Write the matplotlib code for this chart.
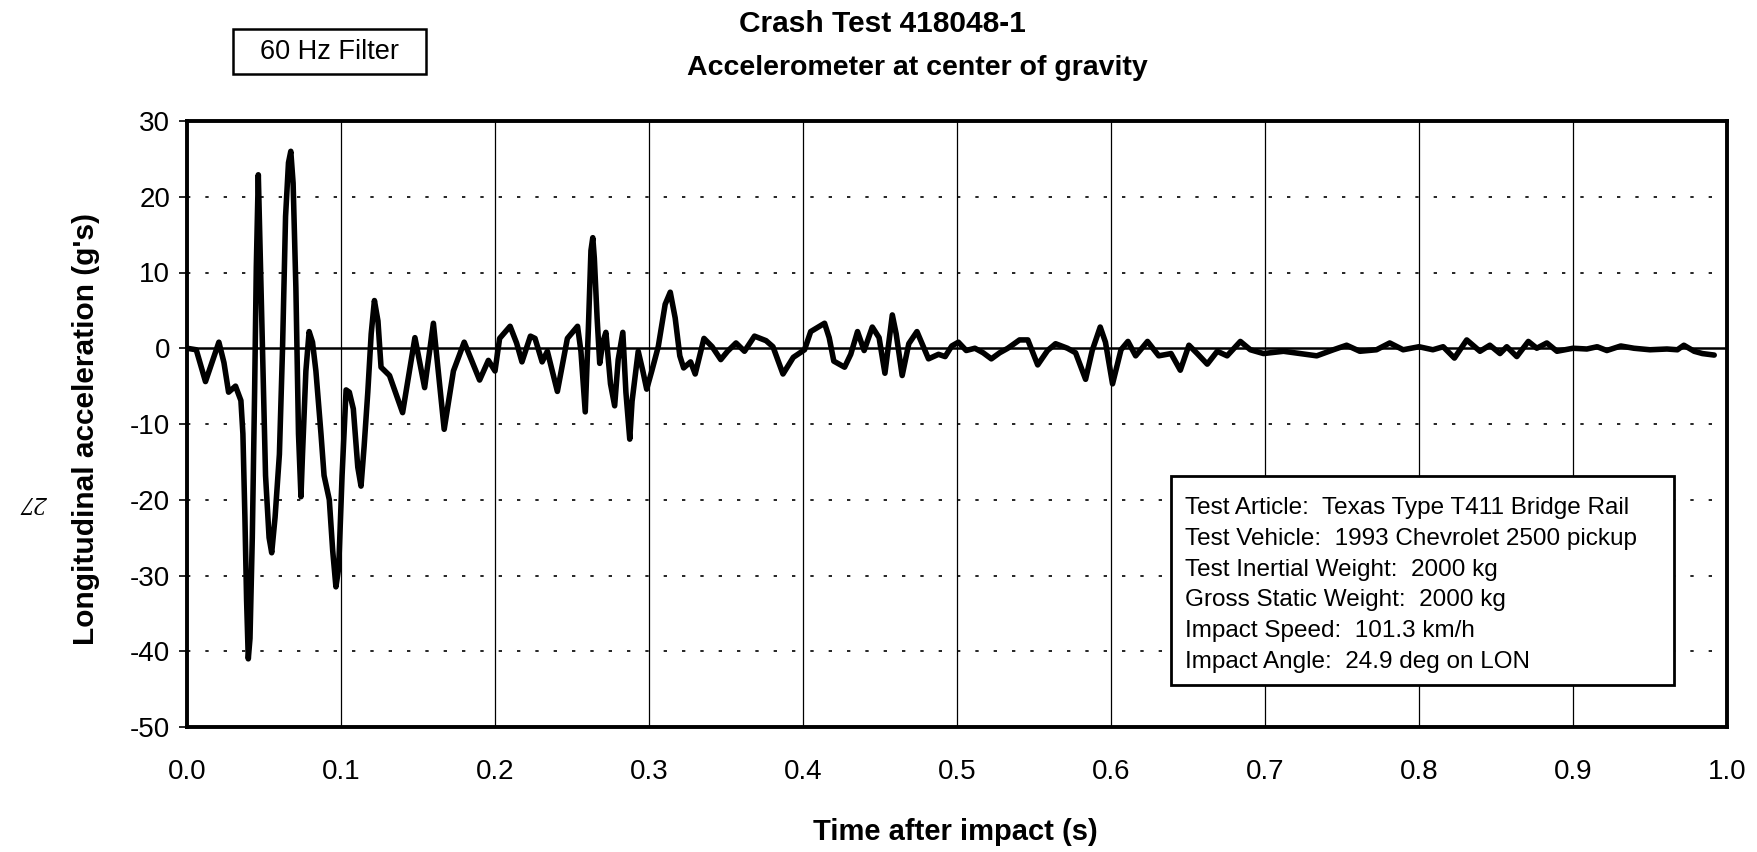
import matplotlib
matplotlib.use("Agg")
import matplotlib.pyplot as plt
from matplotlib.patches import Rectangle
from matplotlib.ticker import FormatStrFormatter

plt.rcParams['font.family'] = ['Liberation Sans', 'DejaVu Sans']
plt.rcParams['axes.unicode_minus'] = False

# ---- data ----
time_s = [0.000, 0.006, 0.012, 0.0207, 0.024, 0.027, 0.0315, 0.035, 0.0363, 0.0376,
          0.0387, 0.0398, 0.0409, 0.0424, 0.0439, 0.045, 0.0463, 0.0474, 0.049, 0.051,
          0.0533, 0.055, 0.0572, 0.060, 0.062, 0.064, 0.0659, 0.0674, 0.0689, 0.0707,
          0.0724, 0.074, 0.075, 0.0772, 0.0793, 0.0815, 0.0837, 0.087, 0.089, 0.0924,
          0.0946, 0.0967, 0.0985, 0.1007, 0.1033, 0.1054, 0.108, 0.1109, 0.113, 0.115,
          0.1174, 0.1196, 0.1217, 0.124, 0.126, 0.1315, 0.140, 0.148, 0.1543, 0.160,
          0.167, 0.173, 0.180, 0.190, 0.1957, 0.200, 0.203, 0.2098, 0.214, 0.2175,
          0.223, 0.226, 0.2306, 0.234, 0.2405, 0.247, 0.2536, 0.2558, 0.2586, 0.2606,
          0.2623, 0.2635, 0.2645, 0.2663, 0.268, 0.270, 0.272, 0.275, 0.2777, 0.280,
          0.283, 0.285, 0.2875, 0.289, 0.293, 0.296, 0.2985, 0.3018, 0.306, 0.3105,
          0.3138, 0.317, 0.320, 0.3225, 0.327, 0.330, 0.3357, 0.341, 0.3466, 0.351,
          0.3565, 0.362, 0.3685, 0.376, 0.3805, 0.387, 0.3937, 0.401, 0.405, 0.414,
          0.417, 0.420, 0.427, 0.431, 0.4354, 0.4397, 0.445, 0.4494, 0.4532, 0.458,
          0.4605, 0.4644, 0.4687, 0.474, 0.4815, 0.488, 0.4923, 0.4966, 0.5009, 0.506,
          0.5116, 0.517, 0.5223, 0.5277, 0.533, 0.5406, 0.546, 0.5524, 0.5588, 0.564,
          0.5717, 0.577, 0.5835, 0.5878, 0.593, 0.5964, 0.601, 0.6065, 0.611, 0.616,
          0.6237, 0.631, 0.639, 0.645, 0.6506, 0.656, 0.6625, 0.669, 0.6754, 0.684,
          0.6905, 0.699, 0.712, 0.7228, 0.7336, 0.7444, 0.753, 0.7616, 0.7724, 0.781,
          0.7897, 0.800, 0.809, 0.8157, 0.823, 0.831, 0.8396, 0.846, 0.8526, 0.857,
          0.8635, 0.871, 0.8765, 0.883, 0.8896, 0.900, 0.909, 0.9157, 0.922, 0.931,
          0.9396, 0.950, 0.961, 0.9678, 0.972, 0.9787, 0.984, 0.9917]
accel_g = [0.0, -0.2, -4.4, 0.8, -1.9, -5.8, -5.0, -6.9, -11.3, -22.3,
           -33.3, -41.0, -38.3, -25.0, -5.8, 10.7, 22.9, 13.5, -0.3, -16.8,
           -25.0, -27.0, -22.3, -14.0, -0.3, 17.4, 24.5, 26.0, 21.8, 8.0,
           -11.3, -19.6, -14.0, -3.0, 2.2, 0.8, -3.0, -11.3, -16.8, -20.0,
           -26.7, -31.5, -29.0, -16.8, -5.5, -5.8, -8.0, -15.7, -18.2, -13.0,
           -5.8, 1.9, 6.3, 3.6, -2.5, -3.6, -8.5, 1.4, -5.2, 3.3,
           -10.7, -3.0, 0.8, -4.2, -1.6, -3.0, 1.3, 2.9, 0.7, -1.8,
           1.6, 1.3, -1.8, -0.4, -5.7, 1.3, 2.9, -0.4, -8.4, 2.4,
           12.9, 14.6, 11.9, 4.0, -2.0, 0.8, 2.1, -4.7, -7.6, -1.5,
           2.1, -5.8, -12.0, -7.0, -0.4, -3.0, -5.4, -3.0, 0.2, 5.8,
           7.4, 4.0, -1.0, -2.6, -1.8, -3.4, 1.3, 0.2, -1.5, -0.4,
           0.7, -0.4, 1.6, 1.0, 0.2, -3.4, -1.2, -0.2, 2.2, 3.3,
           1.4, -1.7, -2.5, -0.8, 2.2, -0.3, 2.8, 1.4, -3.3, 4.4,
           1.9, -3.6, 0.6, 2.2, -1.4, -0.8, -1.1, 0.3, 0.8, -0.3,
           0.0, -0.6, -1.4, -0.6, 0.0, 1.1, 1.1, -2.2, -0.3, 0.6,
           0.0, -0.6, -4.1, -0.3, 2.8, 0.8, -4.7, -0.2, 0.9, -1.0,
           0.9, -1.0, -0.7, -2.9, 0.4, -0.7, -2.1, -0.4, -1.0, 0.9,
           -0.2, -0.7, -0.4, -0.7, -1.0, -0.2, 0.4, -0.4, -0.2, 0.7,
           -0.2, 0.2, -0.2, 0.2, -1.3, 1.1, -0.4, 0.4, -0.7, 0.2,
           -1.1, 0.9, 0.0, 0.7, -0.4, 0.0, -0.1, 0.2, -0.3, 0.3,
           0.0, -0.2, -0.1, -0.2, 0.4, -0.4, -0.7, -0.9]

x_ticks = [0.0, 0.1, 0.2, 0.3, 0.4, 0.5, 0.6, 0.7, 0.8, 0.9, 1.0]
y_ticks = [30, 20, 10, 0, -10, -20, -30, -40, -50]

title = "Crash Test 418048-1"
subtitle = "Accelerometer at center of gravity"
filter_label = "60 Hz Filter"
info_lines = ["Test Article:  Texas Type T411 Bridge Rail",
              "Test Vehicle:  1993 Chevrolet 2500 pickup",
              "Test Inertial Weight:  2000 kg",
              "Gross Static Weight:  2000 kg",
              "Impact Speed:  101.3 km/h",
              "Impact Angle:  24.9 deg on LON"]

W, H = 1758, 852
fig = plt.figure(figsize=(W / 100, H / 100), dpi=100)
ax = fig.add_axes([187 / W, 1 - 727 / H, (1727 - 187) / W, (727 - 121) / H])

def fx(px):
    return px / W

def fy(py):
    return 1 - py / H

ax.set_xlim(0.0, 1.0)
ax.set_ylim(-50, 30)
ax.set_xticks(x_ticks)
ax.set_yticks(y_ticks)
ax.xaxis.set_major_formatter(FormatStrFormatter('%.1f'))

# grid: solid vertical, dotted horizontal
for xv in x_ticks[1:-1]:
    ax.axvline(xv, color='black', lw=0.9, zorder=1)
for yv in y_ticks[1:-1]:
    if yv == 0:
        continue
    ax.axhline(yv, color='black', lw=1.2, ls=(0, (2, 9)), zorder=1)
ax.axhline(0, color='black', lw=1.8, zorder=2)

ax.plot(time_s, accel_g, color='black', lw=4.0, solid_joinstyle='round',
        solid_capstyle='round', zorder=3)

for s in ax.spines.values():
    s.set_linewidth(2.8)

ax.tick_params(axis='x', length=0, pad=23, labelsize=20)
ax.tick_params(axis='y', length=6, width=1.2, pad=6, labelsize=20, direction='out')

fig.text(fx(86), fy(429), "Longitudinal acceleration (g's)", rotation=90,
         ha='center', va='center', fontsize=21.5, fontweight='bold')
fig.text(fx(955), fy(832), "Time after impact (s)", ha='center', va='center',
         fontsize=21, fontweight='bold')

fig.text(fx(882), fy(24), title, ha='center', va='center',
         fontsize=21.5, fontweight='bold')
fig.text(fx(917), fy(68), subtitle, ha='center', va='center',
         fontsize=20.5, fontweight='bold')

# "60 Hz Filter" box
fig.patches.append(Rectangle((fx(233), fy(74)), fx(426) - fx(233), fy(29) - fy(74),
                             transform=fig.transFigure, fc='white', ec='black', lw=1.8))
fig.text(fx(330), fy(52), filter_label, ha='center', va='center', fontsize=19.5)

fig.text(fx(34), fy(502), "27", rotation=180, ha='center', va='center',
         fontsize=19, style='italic', family=['Liberation Serif', 'DejaVu Serif'])

# information box
ax.add_patch(Rectangle((fx(1171), fy(685)), fx(1674) - fx(1171), fy(476) - fy(685),
                       transform=fig.transFigure, fc='white', ec='black', lw=2.0,
                       zorder=5))
line_y0, line_dy = 508, 30.8
for i, line in enumerate(info_lines):
    fig.text(fx(1185), fy(line_y0 + i * line_dy), line, ha='left', va='center',
             fontsize=17.5, zorder=6)

fig.savefig("out.png", dpi=100)
